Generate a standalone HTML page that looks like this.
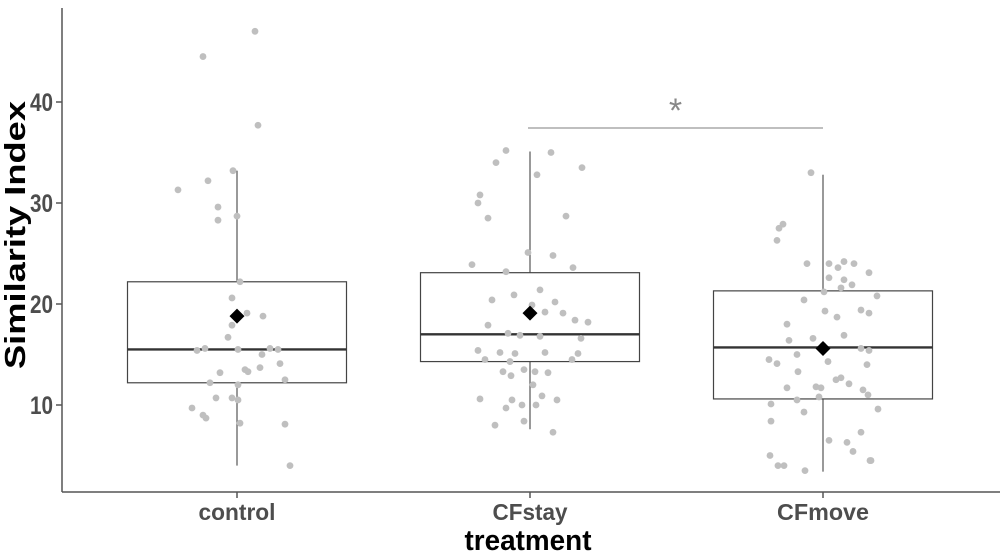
<!DOCTYPE html>
<html><head><meta charset="utf-8"><style>
html,body{margin:0;padding:0;background:#fff;}
svg text{font-family:"Liberation Sans",sans-serif;font-weight:bold;}
</style></head><body>
<svg id="chart" width="1000" height="554" viewBox="0 0 1000 554" xmlns="http://www.w3.org/2000/svg"></svg>
<script>
const categories=["control","CFstay","CFmove"];
const whiskerLow=[4.0,7.6,3.4];
const q1=[12.2,14.3,10.6];
const medians=[15.5,17.0,15.7];
const q3=[22.2,23.1,21.3];
const whiskerHigh=[33.2,35.1,32.8];
const means=[18.8,19.1,15.6];
const yTicks=[10,20,30,40];
const controlVals=[44.5,47.0,37.7,33.2,31.3,32.2,29.6,28.7,28.3,22.2,20.6,19.1,18.8,17.9,16.7,15.6,15.4,15.5,15.6,15.5,15.0,13.5,13.3,13.7,14.1,13.2,12.2,12.0,12.5,10.7,10.7,10.5,9.7,9.0,8.7,8.2,8.1,4.0];
const controlJitter=[-34,18,21,-4,-59,-29,-19,0,-19,3,-5,10,26,-5,-9,-32,-40,1,33,41,25,8,11,23,43,-17,-27,1,48,-5,-21,1,-45,-34,-31,3,48,53];
const stayVals=[35.2,34.0,30.8,30.0,28.5,32.8,35.0,33.5,28.7,23.9,25.1,24.8,23.2,23.6,20.4,20.9,21.4,19.9,19.2,20.2,19.1,18.4,18.2,17.9,17.1,16.9,16.8,16.6,15.4,15.2,15.1,15.2,15.1,14.5,14.3,14.5,13.5,13.3,13.2,13.3,12.9,12.0,10.9,10.6,10.5,10.5,10.0,10.0,9.7,8.4,8.0,7.3];
const stayJitter=[-24,-34,-50,-52,-42,7,21,52,36,-58,-2,23,-24,43,-38,-16,10,2,15,25,33,45,58,-42,-22,-10,10,51,-52,-30,-15,15,48,42,-20,-45,-6,5,18,-27,-19,3,12,-50,-18,27,-8,6,-24,-6,-35,23];
const moveVals=[33.0,27.9,27.5,26.3,24.0,24.0,24.2,23.6,24.0,22.6,22.4,23.1,21.2,21.6,21.9,20.4,20.8,19.3,18.0,18.7,19.4,19.1,16.9,16.6,16.4,15.9,15.0,15.4,15.6,14.5,14.1,14.3,14.0,13.3,12.5,11.8,12.7,11.7,12.1,11.7,11.5,11.0,10.8,9.6,10.5,10.1,9.3,8.4,7.3,6.3,5.4,5.0,4.0,4.5,6.5,4.0,4.5,3.5];
const moveJitter=[-12,-40,-44,-46,-16,6,21,15,31,6,21,46,1,18,29,-19,54,2,-36,14,38,46,21,-10,-34,0,-26,46,38,-54,-46,5,44,-25,13,-7,18,-2,26,-36,40,45,-4,55,-26,-52,-19,-52,38,24,30,-53,-39,47,6,-45,48,-18];
const groupVals=[controlVals,stayVals,moveVals];
const groupJitter=[controlJitter,stayJitter,moveJitter];
const sigPair=[1,2];
const sigLabel="*";

const NS="http://www.w3.org/2000/svg";
const svg=document.getElementById('chart');
const L=62,R=1000,T=8,B=492;
const band=293;
function xs(i){return 237+i*band;}
function jx(j){return j*band/293;}
function ys(v){return 405-(v-10)*10.1;}
function mk(tag,attrs,parent){const e=document.createElementNS(NS,tag);for(const k in attrs)e.setAttribute(k,attrs[k]);(parent||svg).appendChild(e);return e;}

yTicks.forEach(t=>{
  const tk=mk('line',{x1:L-6,x2:L,y1:ys(t),y2:ys(t),stroke:'#555','stroke-width':1.5});
  
  
  const tx=mk('text',{x:L-9,y:ys(t)+9,'text-anchor':'end','font-size':25,fill:'#4d4d4d',textLength:23,lengthAdjust:'spacingAndGlyphs'});
  tx.textContent=t;
  
  
});
const xLabelW=[77,75,92];
categories.forEach((c,i)=>{
  const tk=mk('line',{x1:xs(i),x2:xs(i),y1:B,y2:B+6,stroke:'#555','stroke-width':1.5});
  
  
  const tx=mk('text',{x:xs(i),y:520,'text-anchor':'middle','font-size':23,fill:'#4d4d4d',textLength:xLabelW[i],lengthAdjust:'spacingAndGlyphs'});
  tx.textContent=c;
  
  
});
categories.forEach((c,i)=>{
  const g=mk('g',{});
  
  
  const x=xs(i),w=219;
  mk('line',{x1:x,x2:x,y1:ys(whiskerHigh[i]),y2:ys(q3[i]),stroke:'#555','stroke-width':1.2},g);
  mk('line',{x1:x,x2:x,y1:ys(q1[i]),y2:ys(whiskerLow[i]),stroke:'#555','stroke-width':1.2},g);
  mk('rect',{x:x-w/2,y:ys(q3[i]),width:w,height:ys(q1[i])-ys(q3[i]),fill:'none',stroke:'#444','stroke-width':1.2},g);
  mk('line',{x1:x-w/2,x2:x+w/2,y1:ys(medians[i]),y2:ys(medians[i]),stroke:'#333','stroke-width':2.4},g);
});
groupVals.forEach((vals,i)=>{
  const n=Math.min(vals.length,groupJitter[i].length);
  for(let k=0;k<n;k++){
    const p=mk('circle',{cx:xs(i)+jx(groupJitter[i][k]),cy:ys(vals[k]),r:3.4,fill:'#bfbfbf'});
    
    
  }
});
means.forEach((m,i)=>{
  const x=xs(i),y=ys(m),s=7.5;
  const d=mk('polygon',{points:`${x},${y-s} ${x+s},${y} ${x},${y+s} ${x-s},${y}`,fill:'#000'});
  
  
});
const sx1=xs(sigPair[0])-2,sx2=xs(sigPair[1]);
const sl=mk('line',{x1:sx1,x2:sx2,y1:128,y2:128,stroke:'#999','stroke-width':1.3});


const st=mk('text',{x:(sx1+sx2)/2,y:122,'text-anchor':'middle','font-size':34,fill:'#888'});
st.setAttribute('style','font-weight:normal');
st.textContent=sigLabel;


const ya=mk('line',{x1:L,x2:L,y1:T,y2:B,stroke:'#555','stroke-width':1.5});


const xa=mk('line',{x1:L,x2:R,y1:B,y2:B,stroke:'#555','stroke-width':1.5});


const yt=mk('text',{x:0,y:0,transform:'translate(25,235) rotate(-90)','text-anchor':'middle','font-size':29,fill:'#000',textLength:268,lengthAdjust:'spacingAndGlyphs'});
yt.textContent='Similarity Index';


const xt=mk('text',{x:528,y:550,'text-anchor':'middle','font-size':29,fill:'#000',textLength:127,lengthAdjust:'spacingAndGlyphs'});
xt.textContent='treatment';


</script>
</body></html>
